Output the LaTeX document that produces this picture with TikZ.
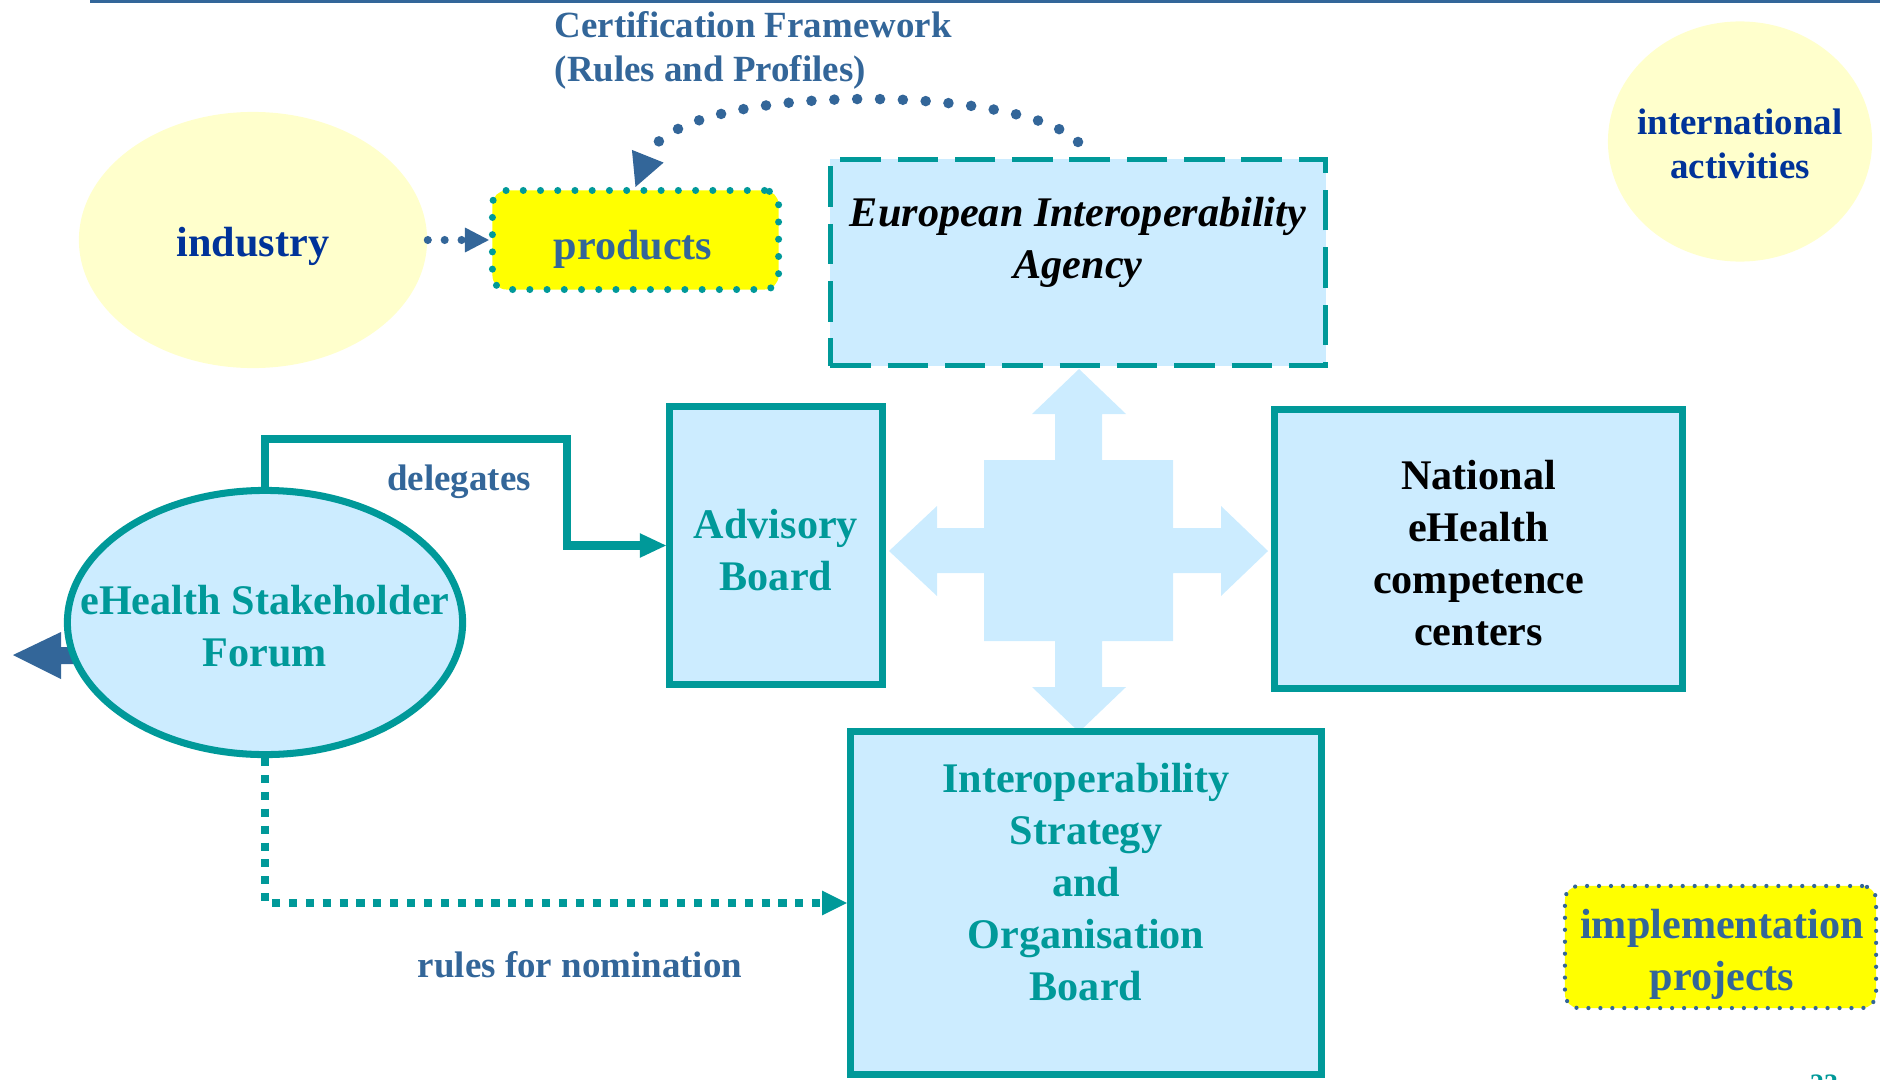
\documentclass[tikz,border=0pt]{standalone}
\usepackage{fontspec}
\setmainfont{Liberation Serif}
\usetikzlibrary{arrows.meta, shapes.geometric}
\definecolor{ehteal}{HTML}{009999}
\definecolor{ehblue}{HTML}{336699}
\definecolor{ehnavy}{HTML}{003399}
\definecolor{boxblue}{HTML}{CCECFF}
\definecolor{paleyellow}{HTML}{FFFFCC}
\definecolor{hiyellow}{HTML}{FFFF00}
\tikzset{
  bigtext/.style={font=\fontsize{12}{14.8}\selectfont\bfseries, align=center, inner sep=0pt},
  smalltext/.style={font=\fontsize{10.5}{12.5}\selectfont\bfseries, text=ehblue, inner sep=0pt},
  board/.style={draw=ehteal, line width=2pt, fill=boxblue, inner sep=0pt},
  cloud/.style={ellipse, fill=paleyellow, inner sep=0pt},
  tag/.style={fill=hiyellow, rounded corners=4pt, inner sep=0pt, line cap=round},
  dotarrow/.style={draw=ehblue, line cap=round},
}
\begin{document}
\begin{tikzpicture}[x=0.01cm, y=-0.01cm]
  \useasboundingbox (0,0) rectangle (1880,1079);
  % header rule
  \draw[ehblue, line width=0.8pt] (90,1.5) -- (1880,1.5);
  % four-way arrow in the middle
  \fill[boxblue] (1079,369) -- (1126,414) -- (1102,414) -- (1102,460) -- (1173,460)
    -- (1173,528) -- (1221,528) -- (1221,506) -- (1268,551) -- (1221,596) -- (1221,573)
    -- (1173,573) -- (1173,641) -- (1102,641) -- (1102,687) -- (1126,687) -- (1079,732)
    -- (1032,687) -- (1055,687) -- (1055,641) -- (984,641) -- (984,573) -- (937,573)
    -- (937,596) -- (889,551) -- (937,506) -- (937,528) -- (984,528) -- (984,460)
    -- (1055,460) -- (1055,414) -- (1032,414) -- cycle;
  % outgoing arrow behind the forum
  \fill[ehblue] (13,655) -- (61,632) -- (61,647) -- (90,647) -- (90,664) -- (61,664) -- (61,679) -- cycle;
  % clouds
  \node[cloud, minimum width=3.48cm, minimum height=2.56cm] (industry) at (253,240) {};
  \node[bigtext, text=ehnavy] (industrytext) at (253,246) {industry};
  \node[cloud, minimum width=2.64cm, minimum height=2.40cm] (intl) at (1740,141.5) {};
  \node[bigtext, text=ehnavy, font=\fontsize{10.5}{12.5}\selectfont\bfseries] (intltext) at (1740,144)
    {international\\activities};
  % yellow tags
  \node[tag, draw=ehteal, line width=2pt, dash pattern=on 0pt off 4.9pt,
    minimum width=2.86cm, minimum height=0.99cm] (products) at (635.5,240) {};
  \node[bigtext, text=ehblue] (productstext) at (633,249) {products};
  \node[tag, draw=ehblue, line width=1.2pt, dash pattern=on 0pt off 3.4pt,
    minimum width=3.11cm, minimum height=1.22cm] (impl) at (1720.5,947) {};
  \node[bigtext, text=ehblue] (impltext) at (1722,954) {implementation\\projects};
  % boards
  \node[board, line width=1.4pt, dash pattern=on 11.5pt off 4.8pt,
    minimum width=4.95cm, minimum height=2.06cm] (eia) at (1078,262.5) {};
  \node[bigtext, font=\fontsize{12}{14.8}\selectfont\bfseries\itshape] (eiatext) at (1078,242)
    {European Interoperability\\Agency};
  \node[board, minimum width=2.13cm, minimum height=2.78cm] (advisory) at (776,545.5) {};
  \node[bigtext, text=ehteal] (advisorytext) at (776,550) {Advisory\\Board};
  \node[board, minimum width=4.08cm, minimum height=2.79cm] (national) at (1478.5,549) {};
  \node[bigtext] (nationaltext) at (1478.5,553) {National\\eHealth\\competence\\centers};
  \node[board, minimum width=4.71cm, minimum height=3.43cm] (interop) at (1086,903) {};
  \node[bigtext, text=ehteal] (interoptext) at (1086,882)
    {Interoperability\\Strategy\\and\\Organisation\\Board};
  \node[board, ellipse, minimum width=3.95cm, minimum height=2.64cm] (forum) at (265,622.5) {};
  \node[bigtext, text=ehteal] (forumtext) at (265,626) {eHealth Stakeholder\\Forum};
  % connectors
  \draw[dotarrow, line width=2.3pt, dash pattern=on 0pt off 4.8pt,
    -{Triangle[length=6.8pt, width=7.1pt, line width=0pt]}] (industry.east) -- (products.west);
  \draw[dotarrow, line width=3pt, dash pattern=on 0pt off 6.5pt,
    -{Triangle[length=9.4pt, width=9.7pt, line width=0pt]}]
    ([yshift=0.15cm]eia.north) .. controls +(-59,-59) and +(42,-105) .. (products.north);
  \coordinate (bend) at (567,439);
  \draw[ehteal, line width=2.3pt, -{Triangle[length=7.4pt, width=7pt, line width=0pt]}]
    (forum.north) |- (bend) |- (advisory.west);
  \draw[ehteal, line width=2.3pt, dash pattern=on 2.3pt off 2.5pt,
    -{Triangle[length=7pt, width=7pt, line width=0pt]}] (forum.south) |- (interop.west);
  % labels
  \node[smalltext, align=left, anchor=west] (certif) at (554,50) {Certification Framework\\(Rules and Profiles)};
  \node[smalltext] (deleg) at (459,482) {delegates};
  \node[smalltext] (rules) at (580,965) {rules for nomination};
  \node[font=\fontsize{8}{9.6}\selectfont\bfseries, text=ehteal, inner sep=0pt, anchor=north] (page) at (1824,1074) {23};
\end{tikzpicture}
\end{document}
